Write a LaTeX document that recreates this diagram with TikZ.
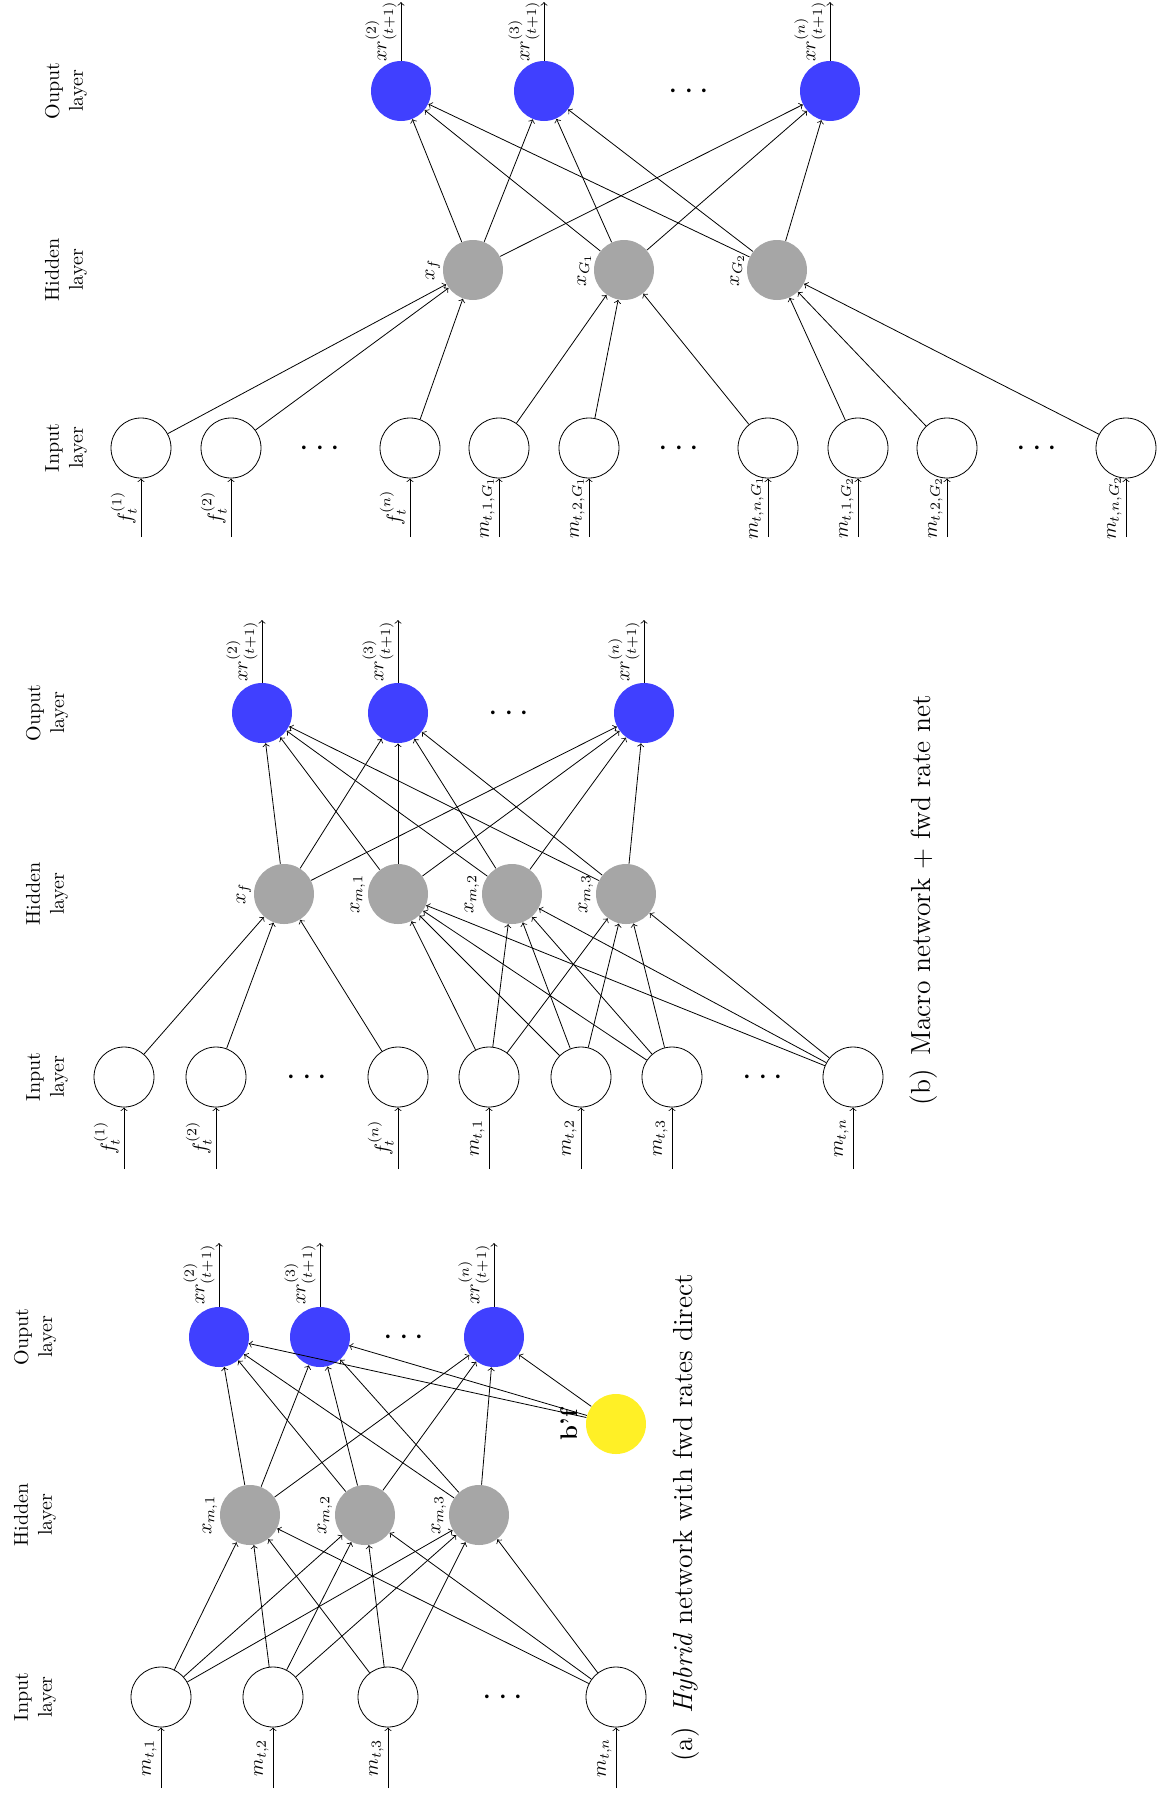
\documentclass[tikz,border=0pt]{standalone}
\usepackage{tikz}

\definecolor{outblue}{RGB}{64,64,255}
\definecolor{hidgray}{RGB}{166,166,166}
\definecolor{biasyellow}{RGB}{255,240,38}

\tikzset{
  neuron/.style={circle, minimum size=30pt, inner sep=0pt},
  innode/.style={neuron, draw},
  hidnode/.style={neuron, fill=hidgray},
  outnode/.style={neuron, fill=outblue},
  biasnode/.style={neuron, fill=biasyellow},
  conn/.style={->},
  lbl/.style={rotate=90, anchor=south, inner sep=2pt},
  layerlbl/.style={rotate=90, align=center, inner sep=0pt},
  caption/.style={rotate=90, font=\fontsize{13.8}{16.5}\selectfont, inner sep=0pt},
  dotsnode/.style={font=\LARGE, anchor=base, inner sep=0pt},
}

\begin{document}
\begin{tikzpicture}[x=0.5pt, y=-0.5pt]
\useasboundingbox (0,0) rectangle (1166,1800);

% ---------------- (a) hybrid network ----------------
\node[layerlbl] (a-L1) at (35,1697) {Input\\layer};
\node[layerlbl] (a-L2) at (35,1515) {Hidden\\layer};
\node[layerlbl] (a-L3) at (35,1337) {Ouput\\layer};

\node[innode] (a-i1) at (161,1697) {};
\node[innode] (a-i2) at (273,1697) {};
\node[innode] (a-i3) at (388,1697) {};
\node[innode] (a-i4) at (616,1697) {};
\node[dotsnode] (a-idots) at (503,1705.6) {$\cdots$};

\node[hidnode] (a-h1) at (250,1515) {};
\node[hidnode] (a-h2) at (365,1515) {};
\node[hidnode] (a-h3) at (479,1515) {};

\node[outnode] (a-o1) at (219,1337) {};
\node[outnode] (a-o2) at (320,1337) {};
\node[outnode] (a-o3) at (494,1337) {};
\node[dotsnode] (a-odots) at (404,1345.6) {$\cdots$};

\node[biasnode] (a-b) at (616,1424) {};
\node[lbl, inner sep=4pt, font=\large] (a-bl) at (a-b.west) {\textbf{b'f}};

\node[lbl, inner sep=1pt] (a-hl1) at (a-h1.west) {$x_{m,1}$};
\node[lbl, inner sep=1pt] (a-hl2) at (a-h2.west) {$x_{m,2}$};
\node[lbl, inner sep=1pt] (a-hl3) at (a-h3.west) {$x_{m,3}$};

\coordinate (a-s1) at (161,1788);
\coordinate (a-s2) at (273,1788);
\coordinate (a-s3) at (388,1788);
\coordinate (a-s4) at (616,1788);
\draw[conn] (a-s1) -- node[lbl] {$m_{t,1}$} (a-i1);
\draw[conn] (a-s2) -- node[lbl] {$m_{t,2}$} (a-i2);
\draw[conn] (a-s3) -- node[lbl] {$m_{t,3}$} (a-i3);
\draw[conn] (a-s4) -- node[lbl] {$m_{t,n}$} (a-i4);

\coordinate (a-e1) at (219,1243);
\coordinate (a-e2) at (320,1243);
\coordinate (a-e3) at (494,1243);
\draw[conn] (a-o1) -- node[lbl] {$xr^{(2)}_{(t+1)}$} (a-e1);
\draw[conn] (a-o2) -- node[lbl] {$xr^{(3)}_{(t+1)}$} (a-e2);
\draw[conn] (a-o3) -- node[lbl] {$xr^{(n)}_{(t+1)}$} (a-e3);

\foreach \i in {1,...,4}
  \foreach \j in {1,2,3}
    \draw[conn] (a-i\i) -- (a-h\j);
\foreach \j in {1,2,3}
  \foreach \k in {1,2,3}
    \draw[conn] (a-h\j) -- (a-o\k);
\foreach \k in {1,2,3}
  \draw[conn] (a-b) -- (a-o\k);

\node[caption] (a-cap) at (686,1518) {(a)\enspace\textit{Hybrid} network with fwd rates direct};

% ---------------- (b) macro network + fwd rate net ----------------
\node[layerlbl] (b-L1) at (47,1077) {Input\\layer};
\node[layerlbl] (b-L2) at (47,894) {Hidden\\layer};
\node[layerlbl] (b-L3) at (47,713) {Ouput\\layer};

\node[innode] (b-f1) at (124,1077) {};
\node[innode] (b-f2) at (216,1077) {};
\node[innode] (b-fn) at (398,1077) {};
\node[innode] (b-m1) at (489,1077) {};
\node[innode] (b-m2) at (581,1077) {};
\node[innode] (b-m3) at (672,1077) {};
\node[innode] (b-mn) at (853,1077) {};
\node[dotsnode] (b-dots1) at (307,1085.6) {$\cdots$};
\node[dotsnode] (b-dots2) at (763,1085.6) {$\cdots$};

\node[hidnode] (b-hf) at (284,894) {};
\node[hidnode] (b-h1) at (398,894) {};
\node[hidnode] (b-h2) at (512,894) {};
\node[hidnode] (b-h3) at (626,894) {};
\node[lbl, inner sep=1pt] (b-hlf) at (b-hf.west) {$x_f$};
\node[lbl, inner sep=1pt] (b-hl1) at (b-h1.west) {$x_{m,1}$};
\node[lbl, inner sep=1pt] (b-hl2) at (b-h2.west) {$x_{m,2}$};
\node[lbl, inner sep=1pt] (b-hl3) at (b-h3.west) {$x_{m,3}$};

\node[outnode] (b-o1) at (262,713) {};
\node[outnode] (b-o2) at (398,713) {};
\node[outnode] (b-on) at (644,713) {};
\node[dotsnode] (b-odots) at (509,721.6) {$\cdots$};

\coordinate (b-sf1) at (124,1169);
\coordinate (b-sf2) at (216,1169);
\coordinate (b-sfn) at (398,1169);
\coordinate (b-sm1) at (489,1169);
\coordinate (b-sm2) at (581,1169);
\coordinate (b-sm3) at (672,1169);
\coordinate (b-smn) at (853,1169);
\draw[conn] (b-sf1) -- node[lbl] {$f^{(1)}_t$} (b-f1);
\draw[conn] (b-sf2) -- node[lbl] {$f^{(2)}_t$} (b-f2);
\draw[conn] (b-sfn) -- node[lbl] {$f^{(n)}_t$} (b-fn);
\draw[conn] (b-sm1) -- node[lbl] {$m_{t,1}$} (b-m1);
\draw[conn] (b-sm2) -- node[lbl] {$m_{t,2}$} (b-m2);
\draw[conn] (b-sm3) -- node[lbl] {$m_{t,3}$} (b-m3);
\draw[conn] (b-smn) -- node[lbl] {$m_{t,n}$} (b-mn);

\coordinate (b-e1) at (262,620);
\coordinate (b-e2) at (398,620);
\coordinate (b-en) at (644,620);
\draw[conn] (b-o1) -- node[lbl] {$xr^{(2)}_{(t+1)}$} (b-e1);
\draw[conn] (b-o2) -- node[lbl] {$xr^{(3)}_{(t+1)}$} (b-e2);
\draw[conn] (b-on) -- node[lbl] {$xr^{(n)}_{(t+1)}$} (b-en);

\foreach \i in {f1,f2,fn}
  \draw[conn] (b-\i) -- (b-hf);
\foreach \i in {m1,m2,m3,mn}
  \foreach \j in {h1,h2,h3}
    \draw[conn] (b-\i) -- (b-\j);
\foreach \j in {hf,h1,h2,h3}
  \foreach \k in {o1,o2,on}
    \draw[conn] (b-\j) -- (b-\k);

\node[caption] (b-cap) at (924,900) {(b)\enspace Macro network + fwd rate net};

% ---------------- (c) grouped macro network ----------------
\node[layerlbl] (c-L1) at (66,448) {Input\\layer};
\node[layerlbl] (c-L2) at (66,270) {Hidden\\layer};
\node[layerlbl] (c-L3) at (66,91) {Ouput\\layer};

\node[innode] (c-f1) at (141,448) {};
\node[innode] (c-f2) at (231,448) {};
\node[innode] (c-fn) at (410,448) {};
\node[innode] (c-g11) at (499,448) {};
\node[innode] (c-g12) at (589,448) {};
\node[innode] (c-g1n) at (768,448) {};
\node[innode] (c-g21) at (858,448) {};
\node[innode] (c-g22) at (947,448) {};
\node[innode] (c-g2n) at (1126,448) {};
\node[dotsnode] (c-dots1) at (320,456.6) {$\cdots$};
\node[dotsnode] (c-dots2) at (679,456.6) {$\cdots$};
\node[dotsnode] (c-dots3) at (1037,456.6) {$\cdots$};

\node[hidnode] (c-hf) at (473,270) {};
\node[hidnode] (c-hg1) at (624,270) {};
\node[hidnode] (c-hg2) at (777,270) {};
\node[lbl, inner sep=1pt] (c-hlf) at (c-hf.west) {$x_f$};
\node[lbl, inner sep=1pt] (c-hl1) at (c-hg1.west) {$x_{G_1}$};
\node[lbl, inner sep=1pt] (c-hl2) at (c-hg2.west) {$x_{G_2}$};

\node[outnode] (c-o1) at (401,91) {};
\node[outnode] (c-o2) at (544,91) {};
\node[outnode] (c-on) at (830,91) {};
\node[dotsnode] (c-odots) at (689,99.6) {$\cdots$};

\coordinate (c-sf1) at (141,537);
\coordinate (c-sf2) at (231,537);
\coordinate (c-sfn) at (410,537);
\coordinate (c-s11) at (499,537);
\coordinate (c-s12) at (589,537);
\coordinate (c-s1n) at (768,537);
\coordinate (c-s21) at (858,537);
\coordinate (c-s22) at (947,537);
\coordinate (c-s2n) at (1126,537);
\draw[conn] (c-sf1) -- node[lbl] {$f^{(1)}_t$} (c-f1);
\draw[conn] (c-sf2) -- node[lbl] {$f^{(2)}_t$} (c-f2);
\draw[conn] (c-sfn) -- node[lbl] {$f^{(n)}_t$} (c-fn);
\draw[conn] (c-s11) -- node[lbl] {$m_{t,1,G_1}$} (c-g11);
\draw[conn] (c-s12) -- node[lbl] {$m_{t,2,G_1}$} (c-g12);
\draw[conn] (c-s1n) -- node[lbl] {$m_{t,n,G_1}$} (c-g1n);
\draw[conn] (c-s21) -- node[lbl] {$m_{t,1,G_2}$} (c-g21);
\draw[conn] (c-s22) -- node[lbl] {$m_{t,2,G_2}$} (c-g22);
\draw[conn] (c-s2n) -- node[lbl] {$m_{t,n,G_2}$} (c-g2n);

\coordinate (c-e1) at (401,2);
\coordinate (c-e2) at (544,2);
\coordinate (c-en) at (830,2);
\draw[conn] (c-o1) -- node[lbl] {$xr^{(2)}_{(t+1)}$} (c-e1);
\draw[conn] (c-o2) -- node[lbl] {$xr^{(3)}_{(t+1)}$} (c-e2);
\draw[conn] (c-on) -- node[lbl] {$xr^{(n)}_{(t+1)}$} (c-en);

\foreach \i in {f1,f2,fn}
  \draw[conn] (c-\i) -- (c-hf);
\foreach \i in {g11,g12,g1n}
  \draw[conn] (c-\i) -- (c-hg1);
\foreach \i in {g21,g22,g2n}
  \draw[conn] (c-\i) -- (c-hg2);
\foreach \j in {hf,hg1,hg2}
  \foreach \k in {o1,o2,on}
    \draw[conn] (c-\j) -- (c-\k);

\end{tikzpicture}
\end{document}
